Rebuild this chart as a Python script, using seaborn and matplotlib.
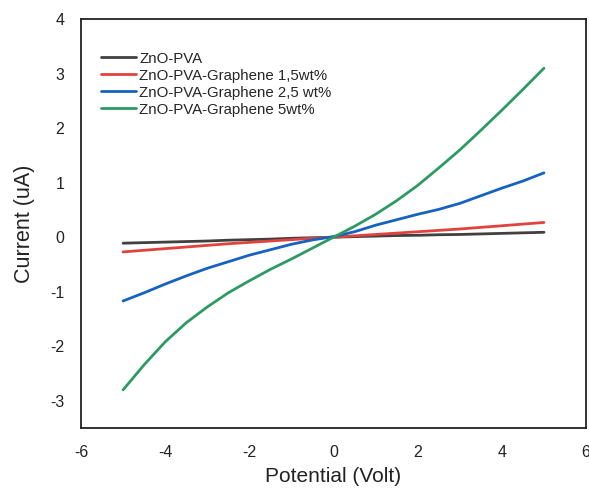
import numpy as np
import pandas as pd
import matplotlib
matplotlib.use("Agg")
import matplotlib.pyplot as plt
import seaborn as sns

potential = [-5, -4.5, -4, -3.5, -3, -2.5, -2, -1.5, -1, -0.5, 0,
             0.5, 1, 1.5, 2, 2.5, 3, 3.5, 4, 4.5, 5]
zno_pva = [-0.11, -0.10, -0.09, -0.08, -0.07, -0.055, -0.045, -0.035, -0.02, -0.01, 0.0,
           0.01, 0.02, 0.03, 0.035, 0.045, 0.05, 0.06, 0.07, 0.08, 0.09]
graphene_15 = [-0.27, -0.24, -0.21, -0.18, -0.15, -0.12, -0.095, -0.07, -0.045, -0.02, 0.0,
               0.025, 0.05, 0.075, 0.10, 0.125, 0.15, 0.18, 0.21, 0.24, 0.27]
graphene_25 = [-1.17, -1.02, -0.86, -0.71, -0.57, -0.45, -0.33, -0.23, -0.13, -0.05, 0.01,
               0.10, 0.22, 0.32, 0.42, 0.51, 0.62, 0.76, 0.90, 1.03, 1.18]
graphene_5 = [-2.80, -2.34, -1.92, -1.57, -1.28, -1.02, -0.80, -0.59, -0.40, -0.20, 0.0,
              0.20, 0.42, 0.67, 0.95, 1.27, 1.60, 1.96, 2.33, 2.71, 3.10]

series_names = ["ZnO-PVA", "ZnO-PVA-Graphene 1,5wt%",
                "ZnO-PVA-Graphene 2,5 wt%", "ZnO-PVA-Graphene 5wt%"]
series_values = [zno_pva, graphene_15, graphene_25, graphene_5]
colors = ["#404040", "#e0433d", "#1562c0", "#2e9a63"]

frames = [pd.DataFrame({"Potential": potential, "Current": vals, "Sample": name})
          for name, vals in zip(series_names, series_values)]
df = pd.concat(frames, ignore_index=True)

sns.set_theme(style="white")
plt.rcParams['font.family'] = ['Liberation Sans', 'DejaVu Sans']

fig = plt.figure(figsize=(5.89, 4.90), dpi=100)
ax = fig.add_axes([0.1375, 0.1265, 0.8575, 0.8345])

sns.lineplot(data=df, x="Potential", y="Current", hue="Sample",
             hue_order=series_names, palette=colors, linewidth=2.0,
             ax=ax, sort=False)

ax.set_xlim(-6, 6)
ax.set_ylim(-3.5, 4)
ax.set_xticks([-6, -4, -2, 0, 2, 4, 6])
ax.set_yticks([-3, -2, -1, 0, 1, 2, 3, 4])
ax.set_xticklabels(["-6", "-4", "-2", "0", "2", "4", "6"])
ax.set_yticklabels(["-3", "-2", "-1", "0", "1", "2", "3", "4"])
ax.tick_params(axis="both", length=0, labelsize=11.5, colors="#222222", pad=12)
ax.set_xlabel("Potential (Volt)", fontsize=15, color="#222222", labelpad=5)
ax.set_ylabel("Current (uA)", fontsize=15.5, color="#222222", labelpad=11)

for s in ax.spines.values():
    s.set_visible(True)
    s.set_color("#222222")
    s.set_linewidth(1.3)

leg = ax.legend(loc="upper left", bbox_to_anchor=(0.028, 0.935), frameon=False,
                fontsize=10.8, handlelength=2.3, handletextpad=0.25,
                labelspacing=0.2, borderaxespad=0)
for line in leg.get_lines():
    line.set_linewidth(2.0)

fig.savefig("out.png", dpi=100)
